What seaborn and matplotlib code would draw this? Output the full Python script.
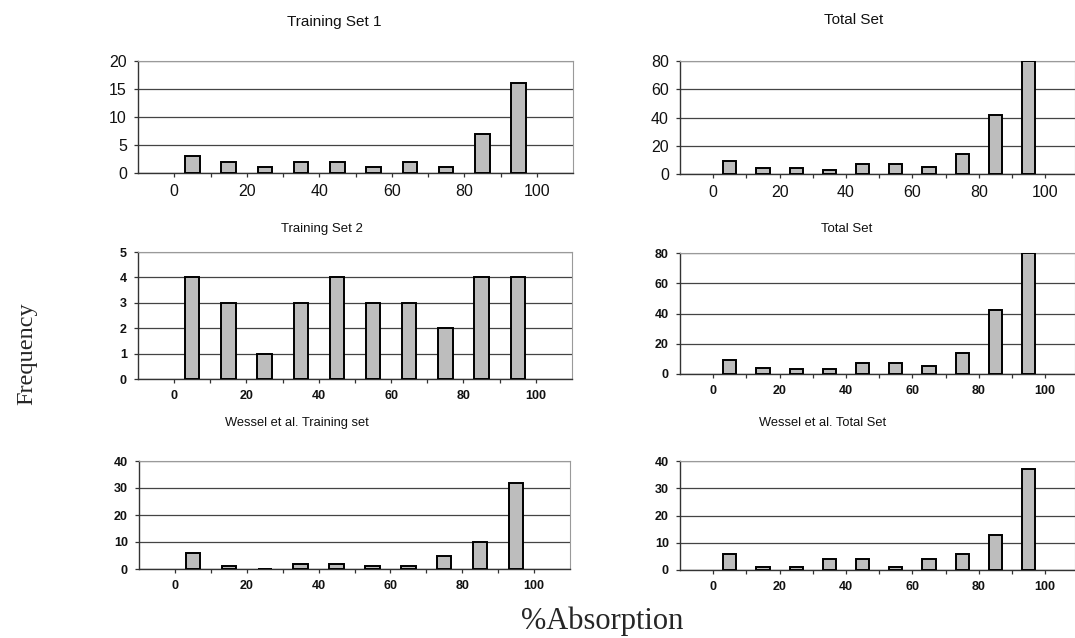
import numpy as np
import pandas as pd
import matplotlib
matplotlib.use("Agg")
import matplotlib.pyplot as plt
import seaborn as sns

# bin centres (% absorption, 10 % wide bins)
bins = [5, 15, 25, 35, 45, 55, 65, 75, 85, 95]

train1       = [3, 2, 1, 2, 2, 1, 2, 1, 7, 16]
total1       = [9, 4, 4, 3, 7, 7, 5, 14, 42, 80]
train2       = [4, 3, 1, 3, 4, 3, 3, 2, 4, 4]
total2       = [9, 4, 3, 3, 7, 7, 5, 14, 42, 80]
wessel_train = [6, 1, 0, 2, 2, 1, 1, 5, 10, 32]
wessel_total = [6, 1, 1, 4, 4, 1, 4, 6, 13, 37]

titles = ["Training Set 1", "Total Set",
          "Training Set 2", "Total Set",
          "Wessel et al. Training set", "Wessel et al. Total Set"]
series = [train1, total1, train2, total2, wessel_train, wessel_total]
y_ticks = [[0, 5, 10, 15, 20], [0, 20, 40, 60, 80],
           [0, 1, 2, 3, 4, 5], [0, 20, 40, 60, 80],
           [0, 10, 20, 30, 40], [0, 10, 20, 30, 40]]

W, H = 1075, 638
sns.set_theme(style="white")
plt.rcParams["font.family"] = ["Liberation Sans", "DejaVu Sans"]

fig = plt.figure(figsize=(W / 100, H / 100), dpi=100, facecolor="white")

# pixel boxes: left, top, right, bottom
boxes = [(138, 61, 573, 173), (680, 61, 1075, 174),
         (138, 252, 572, 379), (680, 253, 1075, 374),
         (139, 461, 570, 569), (680, 461, 1075, 570)]
title_pos = [(334, 22), (854, 20), (322, 229), (847, 229), (297, 423), (823, 423)]
tick_fs   = [11.5, 11.5, 9, 9, 9, 9]
title_fs  = [11, 11, 9.5, 9.5, 9.3, 9.3]
tick_wt   = ["normal", "normal", "bold", "bold", "bold", "bold"]

for i, (vals, ttl) in enumerate(zip(series, titles)):
    l, t, r, b = boxes[i]
    ax = fig.add_axes([l / W, 1 - b / H, (r - l) / W, (b - t) / H])
    df = pd.DataFrame({"absorption": bins, "freq": vals})
    sns.barplot(data=df, x="absorption", y="freq", native_scale=True,
                width=0.4, color="#BDBDBD", saturation=1,
                edgecolor="black", linewidth=1.4, ax=ax, zorder=3)
    ax.set_xlim(-10, 110 if i % 2 == 0 else 109)
    ax.set_ylim(0, y_ticks[i][-1])
    ax.set_yticks(y_ticks[i])
    ax.set_xticks([0, 20, 40, 60, 80, 100])
    ax.set_xticks([10, 30, 50, 70, 90], minor=True)
    ax.set_xlabel("")
    ax.set_ylabel("")
    ax.yaxis.grid(True, color="#444444", linewidth=0.9, zorder=0)
    ax.xaxis.grid(False)
    for s in ["top", "right"]:
        ax.spines[s].set_color("#9a9a9a")
        ax.spines[s].set_linewidth(0.8)
    ax.spines["left"].set_color("#333333")
    ax.spines["bottom"].set_color("#333333")
    ax.spines["left"].set_linewidth(1.0)
    ax.spines["bottom"].set_linewidth(1.0)
    ax.tick_params(axis="both", which="both", direction="out", length=3,
                   width=0.9, color="#333333", labelsize=tick_fs[i],
                   labelcolor="#111111", bottom=True, left=True, pad=5)
    for lab in ax.get_xticklabels() + ax.get_yticklabels():
        lab.set_fontweight(tick_wt[i])
    tx, ty = title_pos[i]
    fig.text(tx / W, 1 - ty / H, ttl, ha="center", va="center",
             fontsize=title_fs[i], color="#111111")

fig.text(27 / W, 1 - 354 / H, "Frequency", rotation=90, ha="center",
         va="center", fontsize=17.5, family=["Liberation Serif", "DejaVu Serif"])
fig.text(602 / W, 1 - 621 / H, "%Absorption", ha="center", va="center",
         fontsize=22, family=["Liberation Serif", "DejaVu Serif"])

fig.savefig("out.png", dpi=100, facecolor="white")
